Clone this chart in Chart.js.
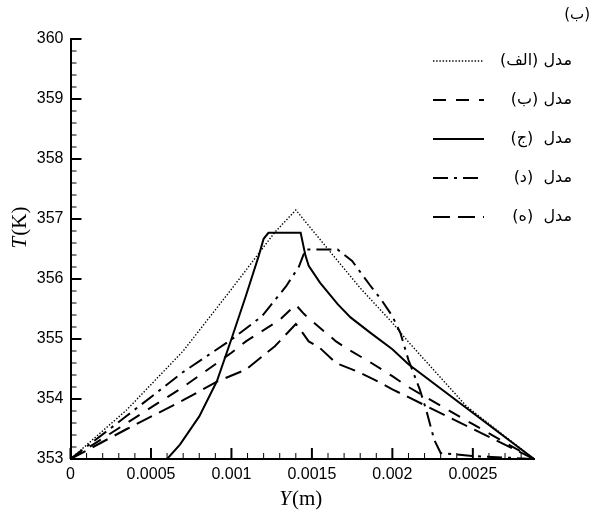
<!DOCTYPE html>
<html lang="fa">
<head>
<meta charset="UTF-8">
<title>T(K) - Y(m)</title>
<style>
  body { margin: 0; background: #fff; }
  #wrap { width: 593px; height: 510px; }
</style>
</head>
<body>
<div id="wrap"><canvas id="myChart" width="593" height="510"></canvas></div>

<script src="https://cdn.jsdelivr.net/npm/chart.js"></script>
<script>
// مدل (الف) - dotted
const alefX = [0, 0.00035, 0.0007, 0.001, 0.00127, 0.0014, 0.00163, 0.0018, 0.002, 0.0021, 0.00246, 0.00288];
const alefY = [353, 353.82, 354.8, 355.83, 356.78, 357.15, 356.4, 355.85, 355.27, 354.95, 353.88, 353];

// مدل (ب) - dashed
const beX = [0, 0.00035, 0.0007, 0.001, 0.00109, 0.0013, 0.0014, 0.00145, 0.0015, 0.00165, 0.00173, 0.00187, 0.002, 0.0021, 0.0025, 0.00288];
const beY = [353, 353.6, 354.2, 354.77, 354.96, 355.32, 355.57, 355.42, 355.3, 354.96, 354.82, 354.6, 354.38, 354.2, 353.58, 353];

// مدل (ج) - solid
const jimX = [0, 0.0006, 0.00068, 0.0008, 0.00091, 0.001, 0.00109, 0.00117, 0.0012, 0.00123, 0.00143, 0.00146, 0.00148, 0.00155, 0.00166, 0.00174, 0.00186, 0.002, 0.0021, 0.00288];
const jimY = [353, 353, 353.24, 353.71, 354.3, 355.0, 355.72, 356.39, 356.67, 356.77, 356.77, 356.39, 356.22, 355.94, 355.58, 355.36, 355.11, 354.83, 354.58, 353];

// مدل (د) - dash dot
const dalX = [0, 0.00035, 0.0007, 0.001, 0.00119, 0.00134, 0.00142, 0.00146, 0.00166, 0.00175, 0.00186, 0.00193, 0.002, 0.00205, 0.0021, 0.00217, 0.00221, 0.00226, 0.0023, 0.0025, 0.00288];
const dalY = [353, 353.72, 354.45, 354.99, 355.38, 355.88, 356.21, 356.49, 356.49, 356.3, 355.9, 355.66, 355.38, 355.1, 354.65, 354.16, 353.82, 353.32, 353.1, 353.05, 353];

// مدل (ه) - long dash
const heX = [0, 0.00035, 0.0007, 0.00091, 0.00109, 0.00127, 0.0014, 0.00143, 0.00148, 0.00155, 0.00165, 0.00178, 0.00189, 0.002, 0.0021, 0.0025, 0.00288];
const heY = [353, 353.5, 353.98, 354.29, 354.49, 354.88, 355.25, 355.15, 354.96, 354.85, 354.6, 354.46, 354.32, 354.16, 354.03, 353.5, 353];

const seriesLabels = ['مدل (الف)', 'مدل (ب)', 'مدل  (ج)', 'مدل  (د)', 'مدل  (ه)'];

// axes
const xTicks = [0, 0.0005, 0.001, 0.0015, 0.002, 0.0025];
const xTickLabels = ['0', '0.0005', '0.001', '0.0015', '0.002', '0.0025'];
const yTicks = [353, 354, 355, 356, 357, 358, 359, 360];
const yTickLabels = ['353', '354', '355', '356', '357', '358', '359', '360'];
const panelTitle = '(ب)';

function pts(xs, ys) {
    return xs.map((v, i) => ({x: v, y: ys[i]}));
}

const ctx = document.getElementById('myChart');

// ticks inside, axis titles, legend
const decor = {
    id: 'decor',
    afterDraw(chart) {
        const c = chart.ctx;
        const area = chart.chartArea;
        const sx = chart.scales.x;
        const sy = chart.scales.y;
        c.save();
        c.strokeStyle = '#000';
        c.fillStyle = '#000';

        // minor ticks
        c.lineWidth = 1;
        for (let k = 1; k <= 28; k++) {
            const px = sx.getPixelForValue(k * 0.0001);
            if (k % 5 == 0) continue;
            c.beginPath(); c.moveTo(px, area.bottom); c.lineTo(px, area.bottom - 6); c.stroke();
        }
        for (let k = 1; k < 35; k++) {
            if (k % 5 == 0) continue;
            const py = sy.getPixelForValue(353 + k * 0.2);
            c.beginPath(); c.moveTo(area.left, py); c.lineTo(area.left + 6, py); c.stroke();
        }
        // major ticks
        c.lineWidth = 2;
        xTicks.forEach(v => {
            const px = sx.getPixelForValue(v);
            c.beginPath(); c.moveTo(px, area.bottom); c.lineTo(px, area.bottom - 11); c.stroke();
        });
        yTicks.forEach(v => {
            const py = sy.getPixelForValue(v);
            c.beginPath(); c.moveTo(area.left, py); c.lineTo(area.left + 11, py); c.stroke();
        });

        // axis titles: italic letter + regular unit
        function mixedTitle(a, b, cx, cy, rot) {
            c.save();
            c.translate(cx, cy);
            c.rotate(rot);
            c.textBaseline = 'middle';
            c.textAlign = 'left';
            const fi = 'italic 21px "Liberation Serif"';
            const fr = '21px "Liberation Serif"';
            c.font = fi; const wa = c.measureText(a).width;
            c.font = fr; const wb = c.measureText(b).width;
            const x0 = -(wa + wb) / 2;
            c.font = fi; c.fillText(a, x0, 0);
            c.font = fr; c.fillText(b, x0 + wa + 1, 0);
            c.restore();
        }
        mixedTitle('Y', '(m)', (area.left + area.right) / 2 - 2, 499, 0);
        mixedTitle('T', '(K)', 20, 228, -Math.PI / 2);

        // panel title
        c.font = '15px "DejaVu Sans"';
        c.direction = 'rtl';
        c.textAlign = 'right';
        c.textBaseline = 'middle';
        c.fillText(panelTitle, 590, 15);

        // legend
        chart.data.datasets.forEach((ds, i) => {
            const ly = 61 + i * 39;
            c.save();
            c.lineWidth = ds.borderWidth;
            c.setLineDash(ds.borderDash || []);
            c.beginPath(); c.moveTo(433, ly); c.lineTo(484, ly); c.stroke();
            c.restore();
            c.font = '16px "DejaVu Sans"';
            c.direction = 'rtl';
            c.textAlign = 'right';
            c.textBaseline = 'middle';
            c.fillText(ds.label, 572, ly);
        });
        c.restore();
    }
};

const myChart = new Chart(ctx, {
    type: 'line',
    data: {
        datasets: [
            {label: seriesLabels[0], data: pts(alefX, alefY), borderColor: '#000', borderWidth: 1.4, borderDash: [1.4, 1.8]},
            {label: seriesLabels[1], data: pts(beX, beY), borderColor: '#000', borderWidth: 2, borderDash: [13, 10]},
            {label: seriesLabels[2], data: pts(jimX, jimY), borderColor: '#000', borderWidth: 2, borderDash: []},
            {label: seriesLabels[3], data: pts(dalX, dalY), borderColor: '#000', borderWidth: 2, borderDash: [15, 6, 3, 6]},
            {label: seriesLabels[4], data: pts(heX, heY), borderColor: '#000', borderWidth: 2, borderDash: [17, 8]}
        ]
    },
    options: {
        responsive: false,
        animation: false,
        elements: {
            line: { tension: 0, fill: false },
            point: { radius: 0 }
        },
        layout: { padding: { left: 0, right: 59, top: 39, bottom: 0 } },
        plugins: {
            legend: { display: false },
            tooltip: { enabled: false }
        },
        scales: {
            x: {
                type: 'linear',
                min: 0,
                max: 0.00288,
                grid: { display: false, drawTicks: false },
                border: { display: true, color: '#000', width: 2 },
                ticks: {
                    color: '#000',
                    font: { family: 'Liberation Sans', size: 16 },
                    padding: 6,
                    maxRotation: 0,
                    autoSkip: false,
                    callback: (v) => {
                        const i = xTicks.findIndex(t => Math.abs(t - v) < 1e-9);
                        return i >= 0 ? xTickLabels[i] : '';
                    }
                },
                afterBuildTicks: (s) => { s.ticks = xTicks.map(v => ({value: v})); },
                afterFit: (s) => { s.height = 51; }
            },
            y: {
                type: 'linear',
                min: 353,
                max: 360,
                grid: { display: false, drawTicks: false },
                border: { display: true, color: '#000', width: 2 },
                ticks: {
                    color: '#000',
                    font: { family: 'Liberation Sans', size: 16 },
                    padding: 7,
                    autoSkip: false,
                    callback: (v) => {
                        const i = yTicks.indexOf(v);
                        return i >= 0 ? yTickLabels[i] : '';
                    }
                },
                afterBuildTicks: (s) => { s.ticks = yTicks.map(v => ({value: v})); },
                afterFit: (s) => { s.width = 70.5; }
            }
        }
    },
    plugins: [decor]
});
</script>
</body>
</html>
